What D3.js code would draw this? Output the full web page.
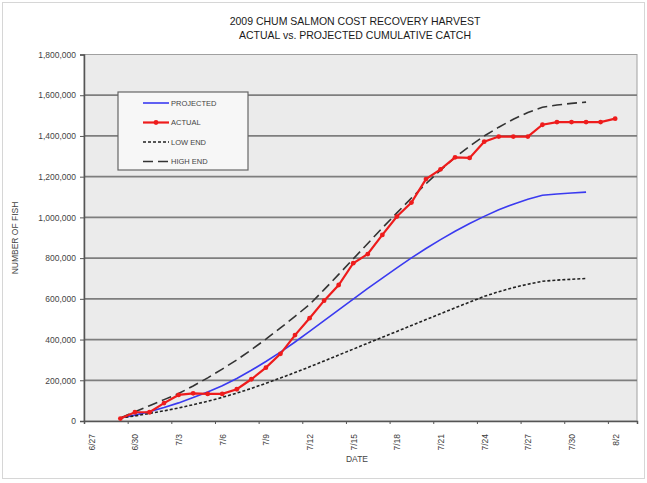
<!DOCTYPE html>
<html>
  <meta charset="utf-8" />
  <head>
    <title>Chum salmon harvest</title>
    <script src="https://d3js.org/d3.v7.min.js"></script>
  </head>
  <style>
    body { margin: 0; background: #fff; }
    svg { font-family: "Liberation Sans", Arial, sans-serif; }
  </style>
  <body>
    <svg width="647" height="483"></svg>
    <script>
      // day labels (2009) and cumulative catch
      var projDates = ["6/29","6/30","7/1","7/2","7/3","7/4","7/5","7/6","7/7","7/8","7/9","7/10","7/11","7/12","7/13","7/14","7/15","7/16","7/17","7/18","7/19","7/20","7/21","7/22","7/23","7/24","7/25","7/26","7/27","7/28","7/29","7/30","7/31"];
      var projected = [15000,29000,46000,66000,89000,115000,143000,173000,209000,249000,292000,338000,388000,440000,493000,546000,599000,651000,702000,752000,801000,847000,891000,932000,970000,1005000,1037000,1065000,1089000,1109000,1115000,1120000,1124000];
      var lowEnd = [15000,25000,37000,50000,64000,80000,97000,116000,137000,160000,185000,211000,238000,266000,295000,324000,353000,382000,411000,440000,469000,498000,527000,556000,584000,612000,635000,655000,672000,686000,692000,696000,700000];
      var highEnd = [15000,45000,75000,105000,135000,172000,212000,255000,300000,350000,402000,457000,514000,572000,645000,720000,796000,872000,948000,1022000,1095000,1165000,1232000,1295000,1350000,1400000,1443000,1482000,1515000,1541000,1552000,1560000,1566000];

      var actualDates = ["6/29","6/30","7/1","7/2","7/3","7/4","7/5","7/6","7/7","7/8","7/9","7/10","7/11","7/12","7/13","7/14","7/15","7/16","7/17","7/18","7/19","7/20","7/21","7/22","7/23","7/24","7/25","7/26","7/27","7/28","7/29","7/30","7/31","8/1","8/2"];
      var actual = [12000,43000,43000,88000,128000,136000,133000,133000,156000,205000,262000,330000,422000,505000,591000,668000,775000,820000,914000,1004000,1073000,1188000,1236000,1295000,1292000,1372000,1397000,1397000,1397000,1455000,1468000,1468000,1468000,1468000,1485000];

      var tickLabels = ["6/27","6/30","7/3","7/6","7/9","7/12","7/15","7/18","7/21","7/24","7/27","7/30","8/2"];
      var yTicks = [0,200000,400000,600000,800000,1000000,1200000,1400000,1600000,1800000];

      var parse = function(s) { return d3.utcParse("%m/%d/%Y")(s + "/2009"); };

      var svg = d3.select("svg");
      var plot = {left: 84, right: 637, top: 54.5, bottom: 421};

      var x = d3.scaleUtc()
        .domain([parse("6/27"), parse("8/4")])
        .range([plot.left, plot.right]);
      var halfDay = (x(parse("6/28")) - x(parse("6/27"))) / 2;
      var px = function(s) { return x(parse(s)) + halfDay; };

      var y = d3.scaleLinear()
        .domain([0, 1800000])
        .range([plot.bottom, plot.top]);

      // outer frame
      svg.append("rect")
        .attr("x", 2.5).attr("y", 2.5)
        .attr("width", 642).attr("height", 476)
        .attr("fill", "#fff")
        .attr("stroke", "#d6d6d6");

      // plot area
      svg.append("rect")
        .attr("x", plot.left).attr("y", plot.top)
        .attr("width", plot.right - plot.left).attr("height", plot.bottom - plot.top)
        .attr("fill", "#ebebeb")
        .attr("stroke", "#a0a0a0");

      // grid
      svg.append("g")
        .selectAll("line")
        .data(yTicks.slice(1, -1))
        .enter().append("line")
          .attr("x1", plot.left).attr("x2", plot.right)
          .attr("y1", function(d) { return y(d); })
          .attr("y2", function(d) { return y(d); })
          .attr("stroke", "#7e7e7e")
          .attr("stroke-width", 1.7);

      // y axis
      var yAxis = svg.append("g")
        .attr("transform", "translate(" + plot.left + ",0)")
        .call(d3.axisLeft(y).tickValues(yTicks).tickSize(4).tickPadding(4).tickFormat(d3.format(",")));
      yAxis.select(".domain").attr("stroke", "#555").attr("stroke-width", 1.5);
      yAxis.selectAll(".tick line").attr("stroke", "#555");
      yAxis.selectAll("text").attr("font-size", 8.5).attr("fill", "#444").attr("font-family", null);

      // x axis
      var xAxis = svg.append("g")
        .attr("transform", "translate(0," + plot.bottom + ")")
        .call(d3.axisBottom(x).tickValues(tickLabels.map(parse)).tickSize(3)
          .tickFormat(d3.utcFormat("%-m/%-d")));
      xAxis.select(".domain").attr("stroke", "#555").attr("stroke-width", 1.5);
      xAxis.selectAll(".tick line").attr("stroke", "#555");
      xAxis.selectAll("text")
        .attr("font-size", 8.5)
        .attr("fill", "#3a3a3a")
        .attr("font-family", null)
        .attr("text-anchor", "end")
        .attr("transform", "rotate(-90)")
        .attr("x", -13)
        .attr("y", halfDay)
        .attr("dy", "0.35em");

      // titles
      var title = svg.append("text")
        .attr("text-anchor", "middle")
        .attr("font-size", 10.5)
        .attr("fill", "#1a1a1a");
      title.append("tspan").attr("x", 355).attr("y", 25).text("2009 CHUM SALMON COST RECOVERY HARVEST");
      title.append("tspan").attr("x", 355).attr("y", 39).text("ACTUAL vs. PROJECTED CUMULATIVE CATCH");

      svg.append("text")
        .attr("x", 357).attr("y", 462)
        .attr("text-anchor", "middle")
        .attr("font-size", 8.5).attr("fill", "#444")
        .text("DATE");

      svg.append("text")
        .attr("transform", "translate(18,238) rotate(-90)")
        .attr("text-anchor", "middle")
        .attr("font-size", 8.5).attr("fill", "#444")
        .text("NUMBER OF FISH");

      // series
      var series = [
        {name: "PROJECTED", dates: projDates, values: projected, color: "#3a3af0", width: 1.6, dash: null},
        {name: "LOW END", dates: projDates, values: lowEnd, color: "#222", width: 1.6, dash: "3,2"},
        {name: "HIGH END", dates: projDates, values: highEnd, color: "#333", width: 1.6, dash: "10,5"},
        {name: "ACTUAL", dates: actualDates, values: actual, color: "#ee1c1c", width: 2.2, dash: null}
      ];

      var line = d3.line()
        .x(function(d) { return px(d[0]); })
        .y(function(d) { return y(d[1]); });

      series.forEach(function(s) {
        svg.append("path")
          .datum(d3.zip(s.dates, s.values))
          .attr("d", line)
          .attr("fill", "none")
          .attr("stroke", s.color)
          .attr("stroke-width", s.width)
          .attr("stroke-dasharray", s.dash);
      });

      svg.append("g")
        .selectAll("circle")
        .data(d3.zip(actualDates, actual))
        .enter().append("circle")
          .attr("cx", function(d) { return px(d[0]); })
          .attr("cy", function(d) { return y(d[1]); })
          .attr("r", 2.4)
          .attr("fill", "#ee1c1c");

      // legend
      var legendItems = [series[0], series[3], series[1], series[2]];
      var lg = svg.append("g").attr("transform", "translate(118,92)");
      lg.append("rect")
        .attr("width", 130).attr("height", 78)
        .attr("fill", "#f7f7f7")
        .attr("stroke", "#666")
        .attr("stroke-width", 1.2);
      var item = lg.selectAll(".item")
        .data(legendItems)
        .enter().append("g")
          .attr("class", "item")
          .attr("transform", function(d, i) { return "translate(0," + (11 + i * 19.5) + ")"; });
      item.append("line")
        .attr("x1", 25).attr("x2", 51)
        .attr("stroke", function(d) { return d.color; })
        .attr("stroke-width", function(d) { return d.width; })
        .attr("stroke-dasharray", function(d) { return d.dash; });
      item.filter(function(d) { return d.name === "ACTUAL"; })
        .append("circle").attr("cx", 38).attr("r", 2.4).attr("fill", "#ee1c1c");
      item.append("text")
        .attr("x", 53).attr("dy", "0.35em")
        .attr("font-size", 7.5).attr("fill", "#444")
        .text(function(d) { return d.name; });
    </script>
  </body>
</html>
